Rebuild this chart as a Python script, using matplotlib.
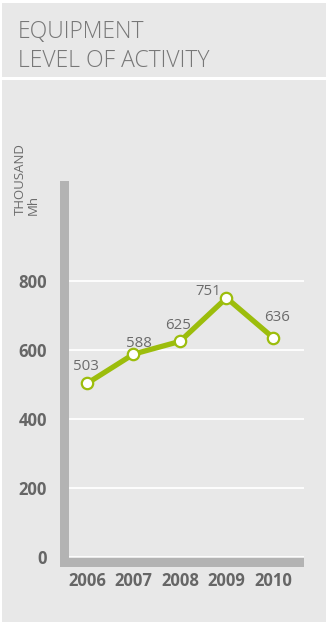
import matplotlib
matplotlib.use("Agg")
import matplotlib.pyplot as plt
from matplotlib.patches import Rectangle

# Data
years = ["2006", "2007", "2008", "2009", "2010"]
activity = [503, 588, 625, 751, 636]
y_ticks = [0, 200, 400, 600, 800]

# Label nudges (pixels) so value labels sit clear of the line
label_offsets = [(-1, 17), (5, 11), (-2, 16), (-18, 6), (4, 20)]

W, H = 326, 622
DPI = 100
PANEL = "#e8e8e8"
BAR = "#b3b3b3"
TEXT = "#6b6b6b"
GREEN = "#9cbd0c"
FONT = "Open Sans"

fig = plt.figure(figsize=(W / DPI, H / DPI), dpi=DPI, facecolor="white")


def px_rect(x0, y0, x1, y1, color, z=0):
    """Rectangle given in pixel coordinates measured from the top-left."""
    fig.add_artist(Rectangle((x0 / W, 1 - y1 / H), (x1 - x0) / W, (y1 - y0) / H,
                             transform=fig.transFigure, facecolor=color,
                             edgecolor="none", zorder=z))


# Background panels
px_rect(2, 3, W, 77, PANEL)
px_rect(2, 80, W, H, PANEL)

# Title
fig.text(18 / W, 1 - 38 / H, "EQUIPMENT", family=FONT, fontweight="light",
         fontsize=16.5, color="#777777", ha="left", va="baseline")
fig.text(18 / W, 1 - 67 / H, "LEVEL OF ACTIVITY", family=FONT, fontweight="light",
         fontsize=16.5, color="#777777", ha="left", va="baseline")

# Plot area
ax_left, ax_right, ax_top, ax_bottom = 69, 304, 181, 557
ax = fig.add_axes([ax_left / W, 1 - ax_bottom / H,
                   (ax_right - ax_left) / W, (ax_bottom - ax_top) / H])
ax.set_facecolor("none")
ax.set_ylim(0, (ax_bottom - ax_top) / 0.345)
ax.set_xlim(-0.387, 4.667)
for s in ax.spines.values():
    s.set_visible(False)

# Axis bars
px_rect(60, ax_top, 69, 567, BAR, z=1)
px_rect(60, 558, ax_right, 567, BAR, z=1)

# Grid lines
for v in y_ticks:
    ax.axhline(v, color="white", lw=1.3, zorder=1)

x = list(range(len(years)))
ax.plot(x, activity, color=GREEN, lw=3.8, zorder=3, solid_capstyle="round",
        solid_joinstyle="round", marker="o", markersize=8.2,
        markerfacecolor="white", markeredgecolor=GREEN, markeredgewidth=1.6)

for xi, v, (dx, dy) in zip(x, activity, label_offsets):
    ax.annotate(str(v), (xi, v), xytext=(dx, dy), textcoords="offset pixels",
                ha="center", va="center", family=FONT, fontsize=10.8,
                color=TEXT, zorder=4)

ax.set_xticks(x)
ax.set_xticklabels(years, family=FONT, fontweight="bold", fontsize=12, color="#666666")
ax.set_yticks(y_ticks)
ax.set_yticklabels([str(t) for t in y_ticks], family=FONT, fontweight="bold",
                   fontsize=12, color="#666666")
ax.tick_params(axis="x", length=0, pad=11)
ax.tick_params(axis="y", length=0, pad=16)

# Unit label
fig.text(27 / W, 1 - 215 / H, "THOUSAND\nMh", family=FONT, fontsize=9.5,
         color=TEXT, rotation=90, ha="center", va="bottom",
         multialignment="left", linespacing=0.95)

fig.savefig("out.png", dpi=DPI, facecolor="white")
